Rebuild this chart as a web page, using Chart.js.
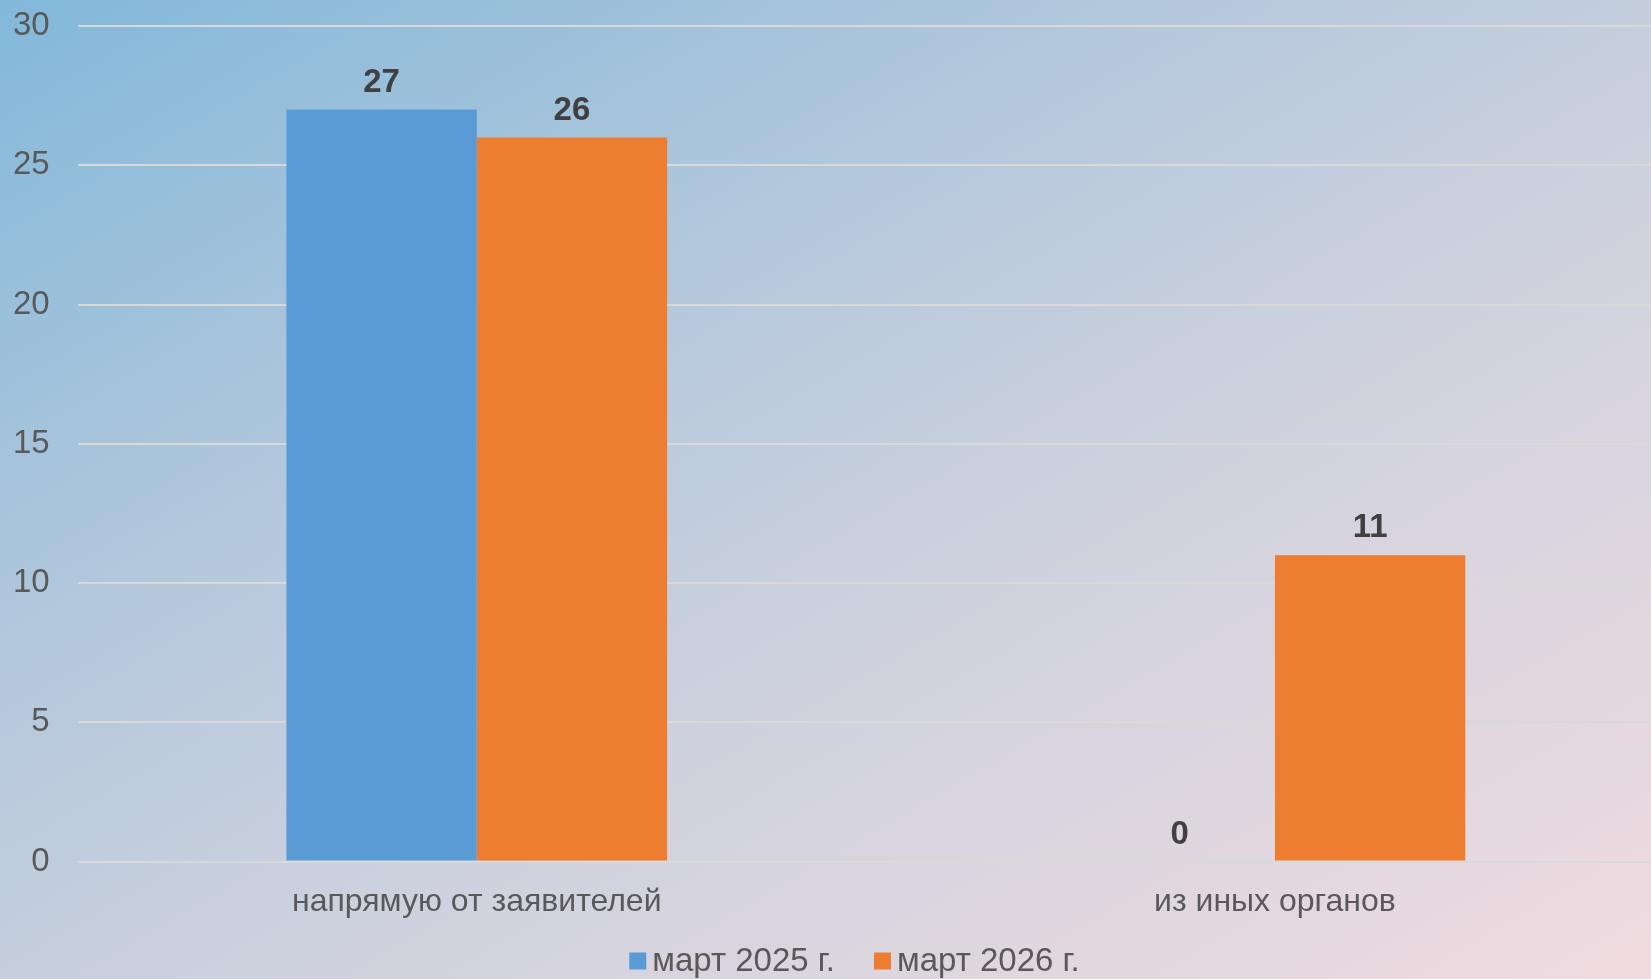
<!DOCTYPE html>
<html>
<head>
<meta charset="utf-8">
<script src="https://cdn.jsdelivr.net/npm/chart.js@4"></script>
<style>
  html, body { margin: 0; padding: 0; overflow: hidden; }
  body {
    width: 1651px; height: 979px;
    background: linear-gradient(150deg, #82b8da 0%, #b4c8dc 35%, #cfd2de 60%, #f0dbe0 100%);
  }
  #wrap { width: 1736px; height: 979px; position: relative; margin-left: -27px; }
</style>
</head>
<body>
<div id="wrap"><canvas id="c"></canvas></div>
<script>
const categories = ["напрямую от заявителей", "из иных органов"];
const seriesNames = ["март 2025 г.", "март 2026 г."];
const values2025 = [27, 0];
const values2026 = [26, 11];
const yTicks = [0, 5, 10, 15, 20, 25, 30];
const colors = ["#5b9bd5", "#ed7d31"];

const FONT = "'Liberation Sans', Arial, sans-serif";
const SHIFT = 27; // canvas is offset left by this many px

const valueLabels = {
  id: "valueLabels",
  afterDatasetsDraw(chart) {
    const ctx = chart.ctx;
    ctx.save();
    ctx.font = "bold 33px " + FONT;
    ctx.fillStyle = "#404040";
    ctx.textAlign = "center";
    ctx.textBaseline = "middle";
    chart.data.datasets.forEach((ds, i) => {
      const meta = chart.getDatasetMeta(i);
      meta.data.forEach((bar, j) => {
        ctx.fillText(String(ds.data[j]), bar.x, bar.y - 27);
      });
    });
    ctx.restore();
  }
};

// bottom legend drawn from the datasets' labels and colours
const bottomLegend = {
  id: "bottomLegend",
  afterDraw(chart) {
    const ctx = chart.ctx;
    ctx.save();
    ctx.font = "33px " + FONT;
    ctx.textBaseline = "middle";
    ctx.textAlign = "left";
    const box = 17, gap = 6, spacing = 39, centerX = 854.5 + SHIFT, midY = 961;
    const items = chart.data.datasets.map(ds => ({
      text: ds.label, color: ds.backgroundColor, w: ctx.measureText(ds.label).width
    }));
    const total = items.reduce((s, it) => s + box + gap + it.w, 0) + spacing * (items.length - 1);
    let x = centerX - total / 2;
    items.forEach(it => {
      ctx.fillStyle = it.color;
      ctx.fillRect(x, midY - box / 2, box, box);
      ctx.fillStyle = "#595959";
      ctx.fillText(it.text, x + box + gap, midY + 1);
      x += box + gap + it.w + spacing;
    });
    ctx.restore();
  }
};

new Chart(document.getElementById("c"), {
  type: "bar",
  data: {
    labels: categories,
    datasets: [
      { label: seriesNames[0], data: values2025, backgroundColor: colors[0], borderWidth: 0,
        categoryPercentage: 0.477, barPercentage: 1.0 },
      { label: seriesNames[1], data: values2026, backgroundColor: colors[1], borderWidth: 0,
        categoryPercentage: 0.477, barPercentage: 1.0 }
    ]
  },
  options: {
    responsive: true,
    maintainAspectRatio: false,
    animation: false,
    layout: { autoPadding: false, padding: { left: 12, right: 35, top: 26, bottom: 45 } },
    scales: {
      x: {
        grid: { display: false },
        border: { display: false },
        ticks: { color: "#595959", font: { family: FONT, size: 32 }, padding: 13 }
      },
      y: {
        min: 0, max: 30,
        afterBuildTicks(axis) { axis.ticks = yTicks.map(v => ({ value: v })); },
        afterFit(axis) { axis.paddingTop = 0; axis.paddingBottom = 0; },
        grid: { color: "#d9d9d9", lineWidth: 2, drawTicks: false },
        border: { display: false },
        ticks: { color: "#595959", font: { family: FONT, size: 33 }, padding: 28 }
      }
    },
    plugins: {
      tooltip: { enabled: false },
      legend: { display: false }
    }
  },
  plugins: [valueLabels, bottomLegend]
});
</script>
</body>
</html>
